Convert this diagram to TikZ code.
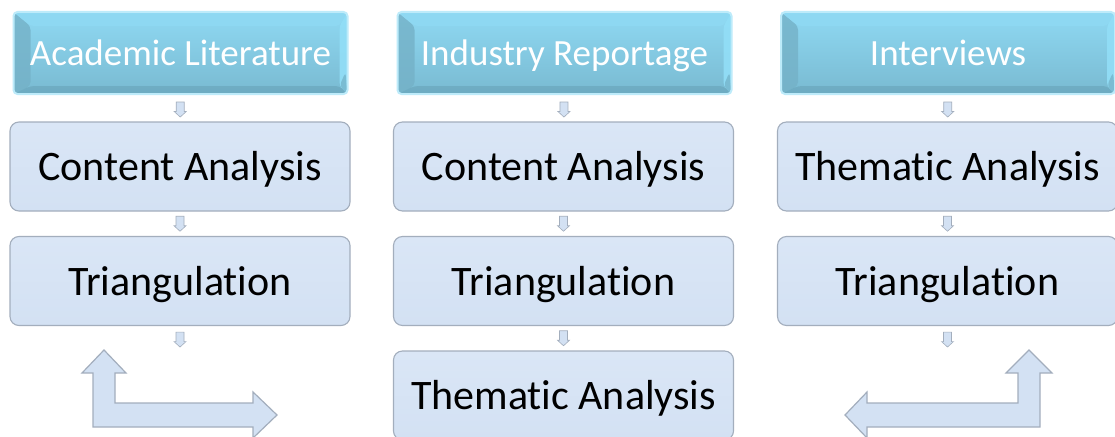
\documentclass[tikz,border=0pt]{standalone}
\usepackage{fontspec}
\setmainfont[Ligatures={NoCommon}]{Carlito}
\usetikzlibrary{calc}
\definecolor{toptopc}{HTML}{8FD9F3}
\definecolor{topbotc}{HTML}{79BAD1}
\definecolor{topleft}{HTML}{74B1C7}
\definecolor{topright}{HTML}{92DEF7}
\definecolor{topbot}{HTML}{6CA9BF}
\definecolor{glow}{HTML}{BDEBFA}
\definecolor{boxfill}{HTML}{D3E1F3}
\definecolor{boxtop}{HTML}{DAE6F6}
\definecolor{boxline}{HTML}{A3AEBD}
\tikzset{
  srcbox/.style={rounded corners=4pt, draw=glow, line width=2pt,
    top color=toptopc, bottom color=topbotc,
    minimum width=334pt, minimum height=82pt, inner sep=0pt,
    text=white, font=\fontsize{37}{44}\selectfont, text height=24pt, text depth=0pt,
    path picture={
      \coordinate (pnw) at (path picture bounding box.north west);
      \coordinate (pne) at (path picture bounding box.north east);
      \coordinate (psw) at (path picture bounding box.south west);
      \coordinate (pse) at (path picture bounding box.south east);
      \fill[topleft,opacity=0.8] (pnw) -- ([shift={(17pt,-14pt)}]pnw) -- ([shift={(17pt,8pt)}]psw) -- (psw) -- cycle;
      \fill[topbot,opacity=0.8] (psw) -- ([shift={(17pt,8pt)}]psw) -- ([shift={(-8pt,8pt)}]pse) -- (pse) -- cycle;
      \fill[topright,opacity=0.9] (pne) -- ([shift={(-8pt,-14pt)}]pne) -- ([shift={(-8pt,8pt)}]pse) -- (pse) -- cycle;
      \fill[topbot,opacity=0.6] ([shift={(-8pt,8pt)}]pse) -- (pse) -- ([shift={(-2pt,22pt)}]pse) -- cycle;
      \fill[toptopc,opacity=0.9] (pnw) -- (pne) -- ([shift={(-8pt,-14pt)}]pne) -- ([shift={(17pt,-14pt)}]pnw) -- cycle;
    }},
  stepbox/.style={rounded corners=9pt, draw=boxline, line width=1.1pt,
    top color=boxtop, bottom color=boxfill,
    minimum width=340pt, minimum height=89pt, inner sep=0pt,
    font=\fontsize{42}{50}\selectfont, text height=28pt, text depth=0pt},
  arrstyle/.style={fill=boxfill, draw=boxline, line width=0.6pt, line join=miter},
  smalldown/.pic={\draw[arrstyle] (-4,-7.5) -- (4,-7.5) -- (4,2) -- (6,2) -- (0,7.5) -- (-6,2) -- (-4,2) -- cycle;},
  bentarr/.style={fill=boxfill, draw=boxline, line width=1.2pt, line join=miter}
}
\begin{document}
\begin{tikzpicture}[x=1pt,y=-1pt]
\useasboundingbox (0,0) rectangle (1115,436);
\fill[white] (0,0) rectangle (1115,436);

% column 1
\node[srcbox] (s1) at (180.5,53) {Academic Literature};
\node[stepbox] (a1) at (180,166.5) {Content Analysis};
\node[stepbox] (b1) at (180,281) {Triangulation};
\pic (p1) at ($(s1.south)!0.55!(a1.north)$) {smalldown};
\pic (q1) at ($(a1.south)!0.5!(b1.north)$) {smalldown};
\pic (r1) at ($(b1.south)+(0,13.5)$) {smalldown};

% column 2
\node[srcbox] (s2) at (564.5,53) {Industry Reportage};
\node[stepbox] (a2) at (563.5,166.5) {Content Analysis};
\node[stepbox] (b2) at (563.5,281) {Triangulation};
\node[stepbox] (c2) at (563.5,395.5) {Thematic Analysis};
\pic (p2) at ($(s2.south)!0.55!(a2.north)$) {smalldown};
\pic (q2) at ($(a2.south)!0.5!(b2.north)$) {smalldown};
\pic (r2) at ($(b2.south)!0.5!(c2.north)$) {smalldown};

% column 3
\node[srcbox] (s3) at (948,53) {Interviews};
\node[stepbox] (a3) at (947.5,166.5) {Thematic Analysis};
\node[stepbox] (b3) at (947.5,281) {Triangulation};
\pic (p3) at ($(s3.south)!0.55!(a3.north)$) {smalldown};
\pic (q3) at ($(a3.south)!0.5!(b3.north)$) {smalldown};
\pic (r3) at ($(b3.south)+(0,13.5)$) {smalldown};

% bent arrows
\draw[bentarr] (93,427) -- (93,373) -- (82,373) -- (104,350) -- (126,373) -- (115,373)
  -- (115,403) -- (253,403) -- (253,392) -- (277,415) -- (253,438) -- (253,427) -- cycle;
\draw[bentarr] (1040,427) -- (1040,373) -- (1052,373) -- (1029,350) -- (1006,373) -- (1018,373)
  -- (1018,403) -- (867,403) -- (867,392) -- (845,415) -- (867,438) -- (867,427) -- cycle;
\end{tikzpicture}
\end{document}
